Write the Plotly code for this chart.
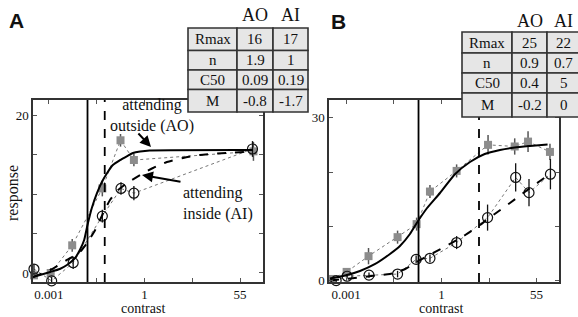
import plotly.graph_objects as go

W, H = 578, 317

# ---------------- data ----------------
tick_vals = [0, 1, 2, 3, 4]
tick_text = ["0.001", "", "1", "", "55"]

# Panel A (x in log-contrast axis units)
a_ao_x = [-0.31, 0.04, 0.49, 1.12, 1.50, 1.78, 4.28]
a_ao_y = [-0.3, 0.0, 3.5, 10.7, 16.8, 14.3, 15.4]
a_ao_err = [0.4, 0.6, 0.8, 1.0, 0.8, 0.8, 1.2]
a_ai_x = [-0.31, 0.06, 0.51, 1.12, 1.51, 1.78, 4.26]
a_ai_y = [0.5, -1.0, 1.3, 7.2, 10.7, 10.1, 15.7]
a_ai_err = [0.6, 0.5, 0.8, 0.8, 0.8, 0.9, 1.0]
a_fit_ao_x = [-0.33, 0.03, 0.23, 0.38, 0.55, 0.65, 0.74, 0.80, 0.90, 1.01, 1.11, 1.22,
              1.34, 1.49, 1.64, 1.76, 1.91, 2.11, 4.27]
a_fit_ao_y = [-0.51, 0.13, 0.51, 1.01, 1.90, 2.91, 4.18, 5.82, 8.23, 10.13, 11.52, 12.66,
              13.67, 14.30, 14.81, 15.19, 15.38, 15.51, 15.57]
a_fit_ai_x = [-0.33, 0.03, 0.38, 0.65, 0.80, 0.97, 1.07, 1.18, 1.28, 1.45, 1.64, 1.91,
              2.18, 2.47, 2.81, 3.16, 3.85, 4.27]
a_fit_ai_y = [-0.51, 0.38, 1.65, 2.66, 3.80, 5.44, 6.71, 8.10, 9.24, 10.51, 11.39, 12.41,
              13.29, 14.05, 14.56, 14.94, 15.25, 15.38]
a_c50 = [0.81, 1.17]  # AO (solid), AI (dashed)

# Panel B
b_ao_x = [-0.31, 0.01, 0.47, 1.08, 1.48, 1.76, 2.32, 2.98, 3.54, 3.82, 4.28]
b_ao_y = [0.3, 1.6, 4.5, 8.0, 10.4, 16.4, 20.2, 25.0, 24.7, 25.6, 23.7]
b_ao_err = [0.4, 0.6, 1.5, 1.2, 1.2, 1.2, 1.2, 1.8, 1.5, 1.9, 1.5]
b_ai_x = [-0.38, -0.21, 0.02, 0.48, 1.08, 1.47, 1.76, 2.32, 2.97, 3.56, 3.84, 4.29]
b_ai_y = [0.0, 0.0, 0.8, 1.0, 1.2, 3.9, 4.1, 7.0, 11.6, 19.0, 16.2, 19.6]
b_ai_err = [0.3, 0.3, 0.4, 0.5, 0.6, 0.7, 0.7, 1.2, 2.4, 2.6, 2.5, 2.8]
b_fit_ao_x = [-0.34, -0.02, 0.29, 0.61, 0.92, 1.13, 1.34, 1.51, 1.70, 1.97, 2.29, 2.60,
              2.91, 3.23, 3.54, 3.86, 4.23]
b_fit_ao_y = [0.39, 0.94, 1.77, 3.06, 4.90, 6.37, 8.58, 10.98, 13.37, 16.13, 19.63, 21.84,
              23.31, 24.05, 24.51, 24.79, 25.06]
b_fit_ai_x = [-0.34, -0.02, 0.29, 0.61, 0.92, 1.24, 1.55, 1.87, 2.18, 2.50, 2.81, 3.12,
              3.44, 3.75, 4.07, 4.28]
b_fit_ai_y = [0.02, 0.29, 0.57, 0.94, 1.22, 2.14, 3.79, 5.27, 6.74, 8.40, 10.24, 12.27,
              14.29, 16.32, 18.34, 19.63]
b_c50 = [1.52, 2.79]

# Tables
table_rows = ["Rmax", "n", "C50", "M"]
table_cols = ["AO", "AI"]
table_a = [["16", "17"], ["1.9", "1"], ["0.09", "0.19"], ["-0.8", "-1.7"]]
table_b = [["25", "22"], ["0.9", "0.7"], ["0.4", "5"], ["-0.2", "0"]]

# ---------------- helpers ----------------
def px(x):
    return x / W

def py(y):
    return 1 - y / H

SERIF = "Liberation Serif, Times New Roman, serif"
fig = go.Figure()

def add_panel(xa, ya, ao_x, ao_y, ao_e, ai_x, ai_y, ai_e, fao_x, fao_y, fai_x, fai_y):
    common = dict(xaxis=xa, yaxis=ya, showlegend=False, hoverinfo="skip")
    fig.add_trace(go.Scatter(x=ao_x, y=ao_y, mode="lines",
                             line=dict(color="#777", width=1, dash="dot"), **common))
    fig.add_trace(go.Scatter(x=ai_x, y=ai_y, mode="lines",
                             line=dict(color="#777", width=1, dash="dot"), **common))
    fig.add_trace(go.Scatter(x=ao_x, y=ao_y, mode="markers", cliponaxis=False,
                             marker=dict(symbol="square", size=8, color="#8c8c8c",
                                         line=dict(width=0)),
                             error_y=dict(type="data", array=ao_e, width=0,
                                          thickness=1.5, color="#555"), **common))
    fig.add_trace(go.Scatter(x=ai_x, y=ai_y, mode="markers", cliponaxis=False,
                             marker=dict(symbol="circle-open", size=10, color="#111",
                                         line=dict(width=1.2)),
                             error_y=dict(type="data", array=ai_e, width=0,
                                          thickness=1.3, color="#111"), **common))
    fig.add_trace(go.Scatter(x=fao_x, y=fao_y, mode="lines",
                             line=dict(color="#000", width=2, shape="spline", smoothing=0.6),
                             **common))
    fig.add_trace(go.Scatter(x=fai_x, y=fai_y, mode="lines",
                             line=dict(color="#000", width=2, dash="dash", shape="spline",
                                       smoothing=0.6), **common))

add_panel("x", "y", a_ao_x, a_ao_y, a_ao_err, a_ai_x, a_ai_y, a_ai_err,
          a_fit_ao_x, a_fit_ao_y, a_fit_ai_x, a_fit_ai_y)
add_panel("x2", "y2", b_ao_x, b_ao_y, b_ao_err, b_ai_x, b_ai_y, b_ai_err,
          b_fit_ao_x, b_fit_ao_y, b_fit_ai_x, b_fit_ai_y)

shapes = []
for xr, yr, c50 in (("x", "y", a_c50), ("x2", "y2", b_c50)):
    for val, dash in zip(c50, ["solid", "dash"]):
        shapes.append(dict(type="line", xref=xr, yref=yr + " domain", x0=val, x1=val,
                           y0=0, y1=1, line=dict(color="#000", width=1.8, dash=dash)))

annotations = []

def txt(x, y, text, size=14, family=SERIF, xanchor="center", **kw):
    annotations.append(dict(xref="paper", yref="paper", x=px(x), y=py(y), text=text,
                            showarrow=False, xanchor=xanchor, yanchor="middle",
                            font=dict(family=family, size=size, color="#111"), **kw))

def add_table(left, colx, right, rowy, values, hdr_y):
    xs = [left] + colx + [right]
    for r in range(len(table_rows)):
        for c in range(3):
            shapes.append(dict(type="rect", xref="paper", yref="paper",
                               x0=px(xs[c]), x1=px(xs[c + 1]),
                               y0=py(rowy[r + 1]), y1=py(rowy[r]),
                               fillcolor="#e6e6e6", line=dict(color="#333", width=1.6)))
            t = table_rows[r] if c == 0 else values[r][c - 1]
            txt((xs[c] + xs[c + 1]) / 2, (rowy[r] + rowy[r + 1]) / 2, t, size=15)
    for c in range(2):
        txt((xs[c + 1] + xs[c + 2]) / 2, hdr_y, table_cols[c], size=18)

add_table(188, [237, 273], 308, [28, 50.5, 70, 89.5, 112], table_a, 15)
add_table(462, [512, 547], 580, [32, 53, 73, 93, 117], table_b, 21)

txt(16, 20, "<b>A</b>", size=21, family="Liberation Sans, Arial, sans-serif")
txt(338, 21, "<b>B</b>", size=21, family="Liberation Sans, Arial, sans-serif")
txt(143, 308.5, "contrast", size=14, borderpad=0)
txt(441, 308.5, "contrast", size=14, borderpad=0)
txt(13, 193, "response", size=16, textangle=-90)
txt(152, 116, "attending<br>outside (AO)", size=16)
txt(181, 203, "attending<br>inside (AI)", size=16, xanchor="left", align="left")

annotations.append(dict(xref="paper", yref="paper", x=px(151), y=py(147), text="",
                        showarrow=True, ax=-14, ay=-15, arrowhead=2, arrowsize=1.1,
                        arrowwidth=2, arrowcolor="#000"))
annotations.append(dict(xref="paper", yref="paper", x=px(142), y=py(175), text="",
                        showarrow=True, ax=40, ay=7, arrowhead=2, arrowsize=1.1,
                        arrowwidth=2, arrowcolor="#000"))

axis_common = dict(showgrid=False, zeroline=False, showline=True, linecolor="#333",
                   linewidth=1.5, mirror="ticks", ticks="inside", ticklen=4,
                   tickcolor="#555", tickwidth=1, automargin=False,
                   tickfont=dict(family=SERIF, size=13, color="#111"))

fig.update_layout(
    width=W, height=H, margin=dict(l=0, r=0, t=0, b=0),
    paper_bgcolor="white", plot_bgcolor="white", showlegend=False,
    xaxis=dict(domain=[px(33), px(263)], range=[-0.33, 4.48], anchor="y",
               tickvals=tick_vals, ticktext=tick_text, **axis_common),
    yaxis=dict(domain=[py(282), py(100)], range=[-1.14, 21.9], anchor="x",
               tickvals=[0, 5, 10, 15, 20], ticktext=["0", "", "", "", "20"], **axis_common),
    xaxis2=dict(domain=[px(329), px(559)], range=[-0.36, 4.47], anchor="y2",
                tickvals=tick_vals, ticktext=tick_text, **axis_common),
    yaxis2=dict(domain=[py(282), py(100)], range=[-0.26, 33.26], anchor="x2",
                tickvals=[0, 10, 20, 30], ticktext=["0", "", "", "30"], **axis_common),
    shapes=shapes, annotations=annotations,
)

fig.write_html("out.html", config={"displayModeBar": False},
               post_script="document.body.style.margin='0';")
